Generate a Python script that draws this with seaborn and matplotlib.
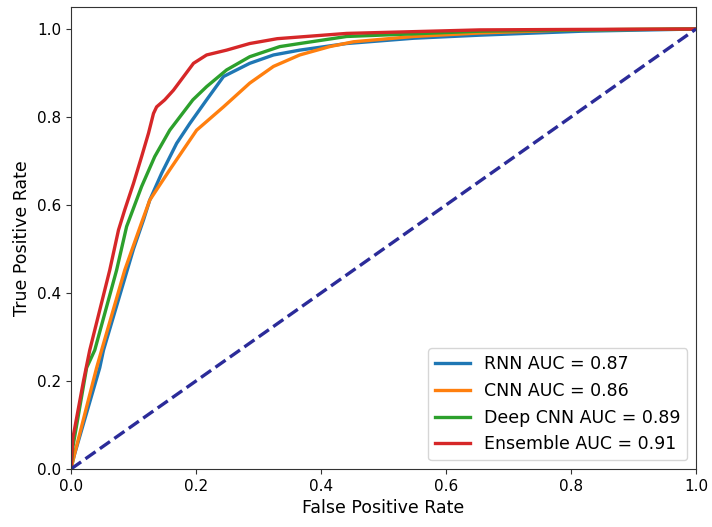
import numpy as np
import pandas as pd
import matplotlib
matplotlib.use("Agg")
import matplotlib.pyplot as plt
import seaborn as sns

# ROC points
rnn_fpr = [0, 0.005, 0.046, 0.052, 0.09, 0.1, 0.116, 0.126, 0.145, 0.169, 0.19, 0.217, 0.244, 0.286, 0.324, 0.366, 0.441, 0.548, 0.654, 0.817, 1.0]
rnn_tpr = [0, 0.03, 0.23, 0.27, 0.452, 0.5, 0.566, 0.611, 0.672, 0.74, 0.785, 0.839, 0.892, 0.922, 0.941, 0.952, 0.967, 0.979, 0.986, 0.995, 1.0]

cnn_fpr = [0, 0.005, 0.041, 0.049, 0.086, 0.098, 0.113, 0.126, 0.158, 0.201, 0.244, 0.286, 0.324, 0.366, 0.414, 0.452, 0.548, 0.654, 0.8, 1.0]
cnn_tpr = [0, 0.03, 0.23, 0.27, 0.452, 0.5, 0.56, 0.611, 0.68, 0.77, 0.823, 0.877, 0.915, 0.941, 0.96, 0.971, 0.983, 0.991, 0.998, 1.0]

deep_fpr = [0, 0.003, 0.025, 0.038, 0.073, 0.089, 0.113, 0.134, 0.158, 0.195, 0.217, 0.249, 0.286, 0.334, 0.366, 0.441, 0.654, 0.8, 1.0]
deep_tpr = [0, 0.05, 0.23, 0.27, 0.452, 0.551, 0.642, 0.71, 0.77, 0.839, 0.869, 0.907, 0.937, 0.96, 0.967, 0.983, 0.995, 0.998, 1.0]

ens_fpr = [0, 0.003, 0.02, 0.03, 0.062, 0.076, 0.086, 0.1, 0.113, 0.124, 0.132, 0.137, 0.15, 0.164, 0.196, 0.217, 0.249, 0.286, 0.33, 0.441, 0.654, 0.8, 1.0]
ens_tpr = [0, 0.07, 0.2, 0.27, 0.452, 0.543, 0.589, 0.649, 0.71, 0.763, 0.808, 0.823, 0.839, 0.861, 0.922, 0.941, 0.952, 0.967, 0.978, 0.99, 0.998, 0.999, 1.0]

models = ["RNN", "CNN", "Deep CNN", "Ensemble"]
aucs = [0.87, 0.86, 0.89, 0.91]
colors = ["tab:blue", "tab:orange", "tab:green", "tab:red"]
curves = [(rnn_fpr, rnn_tpr), (cnn_fpr, cnn_tpr), (deep_fpr, deep_tpr), (ens_fpr, ens_tpr)]

fig = plt.figure(figsize=(7.12, 5.27), dpi=100)
ax = fig.add_axes([0.0997, 0.1101, 0.8778, 0.8766])

for name, auc, col, (fpr, tpr) in zip(models, aucs, colors, curves):
    df = pd.DataFrame({"fpr": fpr, "tpr": tpr})
    sns.lineplot(data=df, x="fpr", y="tpr", ax=ax, color=col, lw=2.4,
                 sort=False, estimator=None, label=f"{name} AUC = {auc:.2f}")

ax.plot([0, 1], [0, 1], color="#2b2b99", lw=2.4, linestyle="--")

ax.set_xlim(0.0, 1.0)
ax.set_ylim(0.0, 1.05)
ax.set_xticks(np.arange(0, 1.01, 0.2))
ax.set_yticks(np.arange(0, 1.01, 0.2))
ax.tick_params(labelsize=11, color="#333333")
for s in ax.spines.values():
    s.set_color("#333333")
ax.set_xlabel("False Positive Rate", fontsize=12.5)
ax.set_ylabel("True Positive Rate", fontsize=12.5)
ax.legend(loc="lower right", fontsize=12.5)

fig.savefig("out.png", dpi=100)
